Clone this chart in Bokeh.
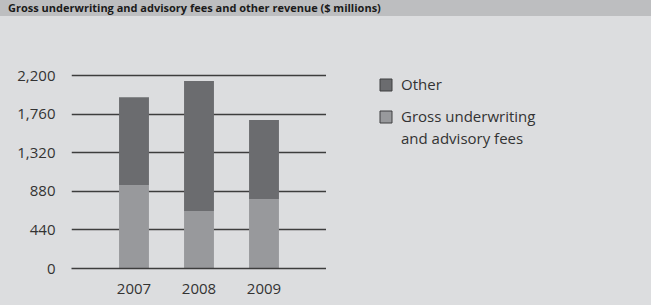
from bokeh.plotting import figure
from bokeh.layouts import column, row
from bokeh.models import (FactorRange, Range1d, FixedTicker, NumeralTickFormatter,
                          ColumnDataSource, Legend, LegendItem, Div)
from bokeh.embed import file_html
from bokeh.resources import INLINE

# ---- data ----
title_text = "Gross underwriting and advisory fees and other revenue ($ millions)"
years = ["2007", "2008", "2009"]
gross_fees = [950, 655, 790]
other = [1005, 1485, 905]
y_ticks = [0, 440, 880, 1320, 1760, 2200]
legend_other = "Other"
legend_gross_l1 = "Gross underwriting"
legend_gross_l2 = "and advisory fees"

BG = "#dcdddf"
BAND = "#bdbec0"
C_GROSS = "#98999c"
C_OTHER = "#6b6c6f"
TXT = "#333333"
GRID = "#3d3d3d"
FONT = "Open Sans"

band = Div(text=title_text, width=651, height=16, margin=0,
           styles={"background-color": BAND, "font-family": FONT,
                   "font-weight": "bold", "font-size": "11px",
                   "color": "#1a1a1a", "padding-left": "8px",
                   "line-height": "16px", "box-sizing": "border-box",
                   "white-space": "nowrap", "overflow": "hidden"})

p = figure(width=326, height=289,
           x_range=FactorRange(factors=years, range_padding=0.3077,
                               range_padding_units="percent"),
           y_range=Range1d(0, 2510),
           output_backend="svg", toolbar_location=None,
           min_border_left=71, min_border_right=0,
           min_border_top=32, min_border_bottom=37,
           styles={"background-color": BG})

p.background_fill_color = BG
p.border_fill_color = BG
p.outline_line_color = None

src = ColumnDataSource(dict(year=years, gross=gross_fees, other=other))
p.vbar_stack(["gross", "other"], x="year", width=0.46,
             color=[C_GROSS, C_OTHER], line_color=None, source=src)

# grid
p.xgrid.visible = False
p.ygrid.ticker = FixedTicker(ticks=y_ticks)
p.ygrid.grid_line_color = GRID
p.ygrid.grid_line_width = 1.5

# y axis
p.yaxis.ticker = FixedTicker(ticks=y_ticks)
p.yaxis.formatter = NumeralTickFormatter(format="0,0")
p.yaxis.axis_line_color = None
p.yaxis.major_tick_line_color = None
p.yaxis.minor_tick_line_color = None
p.yaxis.major_label_text_font = FONT
p.yaxis.major_label_text_font_size = "15px"
p.yaxis.major_label_text_color = TXT
p.yaxis.major_label_standoff = 10

# x axis
p.xaxis.axis_line_color = GRID
p.xaxis.axis_line_width = 1.5
p.xaxis.major_tick_line_color = None
p.xaxis.minor_tick_line_color = None
p.xaxis.major_label_text_font = FONT
p.xaxis.major_label_text_font_size = "15px"
p.xaxis.major_label_text_color = TXT
p.xaxis.major_label_standoff = 9

# legend panel (separate figure so the legend is not clipped); its bars are
# muted with zero alpha, so only the legend swatches show
pl = figure(width=325, height=289, output_backend="svg", toolbar_location=None,
            x_range=FactorRange(factors=years), y_range=Range1d(-20, -10),
            x_axis_location=None, y_axis_location=None,
            min_border_left=0, min_border_right=0,
            min_border_top=0, min_border_bottom=0,
            styles={"background-color": BG})
pl.background_fill_color = BG
pl.border_fill_color = BG
pl.outline_line_color = None
pl.xgrid.visible = False
pl.ygrid.visible = False
sw_gross, sw_other = pl.vbar_stack(["gross", "other"], x="year", width=0.46,
                                   fill_color=[C_GROSS, C_OTHER],
                                   line_color="#3f3f41", line_width=1,
                                   muted_alpha=0, source=src)
sw_gross.muted = True
sw_other.muted = True

common = dict(orientation="vertical", padding=0, margin=0,
              glyph_width=15, glyph_height=15, label_height=15,
              label_standoff=8, label_text_font=FONT,
              label_text_font_size="15px", label_text_color=TXT,
              background_fill_alpha=0, border_line_color=None)

legend1 = Legend(items=[LegendItem(label=legend_other, renderers=[sw_other]),
                        LegendItem(label=legend_gross_l1, renderers=[sw_gross])],
                 location=(52, 142), spacing=12, **common)
legend2 = Legend(items=[LegendItem(label=legend_gross_l2, renderers=[])],
                 location=(52, 120), spacing=0, **common)
pl.add_layout(legend1)
pl.add_layout(legend2)

layout = column(band, row(p, pl, spacing=0), spacing=0,
                styles={"background-color": BG})
open("out.html", "w").write(file_html(layout, INLINE))
